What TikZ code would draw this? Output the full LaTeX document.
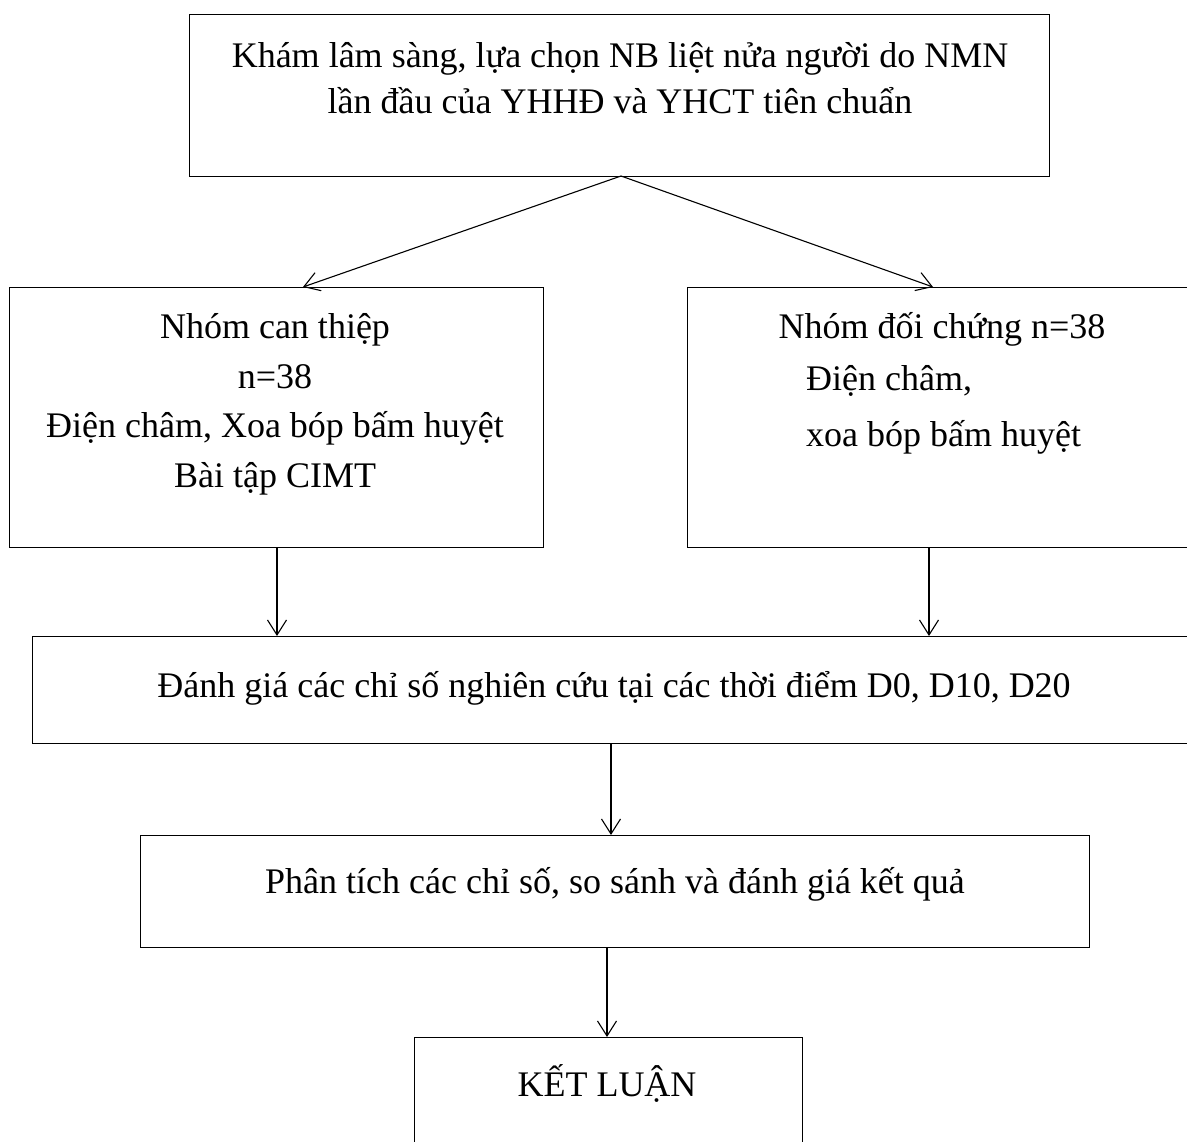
\documentclass[tikz,border=0pt]{standalone}
\usepackage{fontspec}
\setmainfont{Liberation Serif}
\usetikzlibrary{arrows.meta}
\tikzset{
  box/.style={draw, line width=1.1pt, rectangle, anchor=north west, inner sep=0pt},
  txt/.style={anchor=base, inner sep=0pt, font=\fontsize{36}{43}\selectfont},
  arr/.style={line width=1.1pt, -{Straight Barb[length=15pt,width=19pt,line width=1.1pt]}}
}
\begin{document}
\begin{tikzpicture}[x=1pt,y=-1pt]
\useasboundingbox (0,0) rectangle (1187,1142);
\clip (0,0) rectangle (1187,1142);
% boxes
\node[box, minimum width=860pt, minimum height=162pt] (top) at (189,14) {};
\node[box, minimum width=534pt, minimum height=260pt] (left) at (8.5,287) {};
\node[box, minimum width=540pt, minimum height=260pt] (right) at (687,287) {};
\node[box, minimum width=1180pt, minimum height=107pt] (mid) at (32,636) {};
\node[box, minimum width=949pt, minimum height=112pt] (ana) at (140,835) {};
\node[box, minimum width=388pt, minimum height=140pt] (concl) at (413.5,1037) {};
% texts
\node[txt] (t1) at (620,68) {Khám lâm sàng, lựa chọn NB liệt nửa người do NMN};
\node[txt] (t2) at (620,114) {lần đầu của YHHĐ và YHCT tiên chuẩn};
\node[txt] (l1) at (275,338) {Nhóm can thiệp};
\node[txt] (l2) at (275,388) {n=38};
\node[txt] (l3) at (275,437) {Điện châm, Xoa bóp bấm huyệt};
\node[txt] (l4) at (275,487) {Bài tập CIMT};
\node[txt] (r1) at (942,338) {Nhóm đối chứng n=38};
\node[txt, anchor=base west] (r2) at (806,390) {Điện châm,};
\node[txt, anchor=base west] (r3) at (806,446) {xoa bóp bấm huyệt};
\node[txt] (m1) at (614,697) {Đánh giá các chỉ số nghiên cứu tại các thời điểm D0, D10, D20};
\node[txt] (a1) at (615,893) {Phân tích các chỉ số, so sánh và đánh giá kết quả};
\node[txt] (c1) at (607,1096) {KẾT LUẬN};
% connectors
\coordinate (apex) at (621,176);
\coordinate (lin) at (303,287);
\coordinate (rin) at (933,287);
\draw[arr] (apex) -- (lin);
\draw[arr] (apex) -- (rin);
\draw[arr] (left.south west -| 277,0) -- (mid.north west -| 277,0);
\draw[arr] (right.south west -| 929,0) -- (mid.north west -| 929,0);
\draw[arr] (mid.south west -| 611,0) -- (ana.north west -| 611,0);
\draw[arr] (ana.south west -| 607,0) -- (concl.north west -| 607,0);
\end{tikzpicture}
\end{document}
